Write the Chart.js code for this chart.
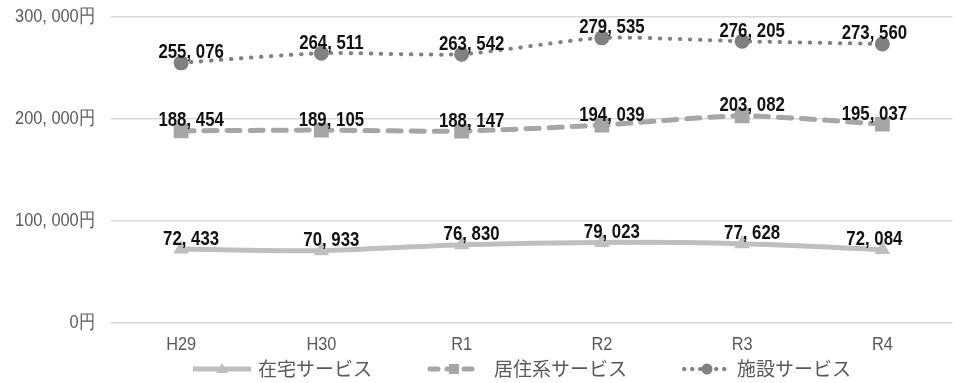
<!DOCTYPE html>
<html lang="ja">
<head>
<meta charset="utf-8">
<script src="https://cdn.jsdelivr.net/npm/chart.js@4"></script>
<style>
  html, body { margin: 0; padding: 0; background: #fff; overflow: hidden; }
  #wrap { position: absolute; left: 0; top: 0; width: 963px; height: 383px; }
</style>
</head>
<body>
<div id="wrap"><canvas id="grafico"></canvas></div>
<script>
// 年度
const nendo = ['H29', 'H30', 'R1', 'R2', 'R3', 'R4'];

// 一人当たり給付費（円）
const zaitaku = [72433, 70933, 76830, 79023, 77628, 72084];
const kyojuu = [188454, 189105, 188147, 194039, 203082, 195037];
const shisetsu = [255076, 264511, 263542, 279535, 276205, 273560];

const nomes = ['在宅サービス', '居住系サービス', '施設サービス'];

const yTicks = [0, 100000, 200000, 300000];

const SANS = "'Liberation Sans', Arial, sans-serif";
const JP_FONT = "'Noto Sans CJK JP', sans-serif";

function fmt(v) {
    return v.toLocaleString('en-US').replace(/,/g, ', ');
}

// 横に詰めた文字（細長い書体の代わり）
function textoEstreito(ctx, txt, x, y, align, sx) {
    ctx.save();
    ctx.translate(x, y);
    ctx.scale(sx, 1);
    ctx.textAlign = align;
    ctx.textBaseline = 'middle';
    ctx.fillText(txt, 0, 0);
    ctx.restore();
}

// 軸の目盛り文字
const eixos = {
    id: 'eixos',
    afterDraw(chart) {
        const ctx = chart.ctx;
        const sy = chart.scales.y;
        const sx = chart.scales.x;
        ctx.save();
        ctx.fillStyle = '#595959';
        ctx.font = '19px ' + SANS;
        sy.ticks.forEach(t => {
            textoEstreito(ctx, fmt(t.value) + '円', 95, sy.getPixelForValue(t.value), 'right', 0.86);
        });
        chart.data.labels.forEach((lb, i) => {
            textoEstreito(ctx, lb, sx.getPixelForTick(i), sy.bottom + 22, 'center', 0.86);
        });
        ctx.restore();
    }
};

// 数値ラベル（点の少し上）
const rotulos = {
    id: 'rotulos',
    afterDatasetsDraw(chart) {
        const ctx = chart.ctx;
        ctx.save();
        ctx.font = 'bold 20px ' + SANS;
        ctx.fillStyle = '#111';
        chart.data.datasets.forEach((ds, i) => {
            const meta = chart.getDatasetMeta(i);
            meta.data.forEach((pt, j) => {
                const dx = j === meta.data.length - 1 ? -8 : 10;
                textoEstreito(ctx, fmt(ds.data[j]), pt.x + dx, pt.y - 10, 'center', 0.84);
            });
        });
        ctx.restore();
    }
};

// 凡例（線＋マーカー）
const legenda = {
    id: 'legenda',
    afterDraw(chart) {
        const ctx = chart.ctx;
        const y = 369;
        const itens = [
            { x0: 193, x1: 251, tx: 258 },
            { x0: 430, x1: 478, tx: 494 },
            { x0: 684, x1: 730, tx: 737 }
        ];
        ctx.save();
        chart.data.datasets.forEach((ds, i) => {
            const it = itens[i];
            ctx.strokeStyle = ds.borderColor;
            ctx.lineWidth = ds.borderWidth;
            ctx.lineCap = ds.borderCapStyle || 'butt';
            ctx.setLineDash(i === 0 ? [] : (i === 1 ? [8, 9] : [0.5, 7.5]));
            ctx.beginPath();
            ctx.moveTo(it.x0, y);
            ctx.lineTo(it.x1, y);
            ctx.stroke();
            ctx.setLineDash([]);
            const cx = (it.x0 + it.x1) / 2;
            ctx.fillStyle = ds.pointBackgroundColor;
            ctx.beginPath();
            if (i === 0) {
                ctx.moveTo(cx, y - 6);
                ctx.lineTo(cx + 6, y + 4);
                ctx.lineTo(cx - 6, y + 4);
                ctx.closePath();
            } else if (i === 1) {
                ctx.rect(cx - 5, y - 5, 10, 10);
            } else {
                ctx.arc(cx, y, 5.5, 0, Math.PI * 2);
            }
            ctx.fill();
            ctx.font = '19px ' + JP_FONT;
            ctx.fillStyle = '#595959';
            ctx.textAlign = 'left';
            ctx.textBaseline = 'middle';
            ctx.fillText(nomes[i], it.tx, y);
        });
        ctx.restore();
    }
};

const ctx = document.getElementById('grafico').getContext('2d');

new Chart(ctx, {
    type: 'line',
    data: {
        labels: nendo,
        datasets: [
            {
                label: nomes[0],
                data: zaitaku,
                borderColor: '#bfbfbf',
                borderWidth: 5,
                pointStyle: 'triangle',
                pointRadius: 9,
                pointBackgroundColor: '#bfbfbf',
                pointBorderWidth: 0,
                tension: 0.22
            },
            {
                label: nomes[1],
                data: kyojuu,
                borderColor: '#a6a6a6',
                borderWidth: 5,
                borderDash: [13, 10],
                borderCapStyle: 'round',
                pointStyle: 'rect',
                pointRadius: 10.5,
                pointBackgroundColor: '#a6a6a6',
                pointBorderWidth: 0,
                tension: 0.22
            },
            {
                label: nomes[2],
                data: shisetsu,
                borderColor: '#808080',
                borderWidth: 4,
                borderDash: [0.5, 9.5],
                borderCapStyle: 'round',
                pointStyle: 'circle',
                pointRadius: 7.5,
                pointBackgroundColor: '#808080',
                pointBorderWidth: 0,
                tension: 0.22
            }
        ]
    },
    options: {
        responsive: true,
        maintainAspectRatio: false,
        animation: false,
        layout: { padding: { top: 17, bottom: 30, left: 0, right: 0 } },
        plugins: {
            legend: { display: false },
            tooltip: { enabled: false }
        },
        scales: {
            x: {
                offset: true,
                grid: { display: false },
                border: { display: false },
                ticks: { display: false },
                afterFit(scale) { scale.height = 30; }
            },
            y: {
                min: 0,
                max: 300000,
                afterBuildTicks(scale) {
                    scale.ticks = yTicks.map(v => ({ value: v }));
                },
                grid: { color: '#d9d9d9', lineWidth: 1.5, drawTicks: false },
                border: { display: false },
                ticks: { display: false },
                afterFit(scale) { scale.width = 111; }
            }
        }
    },
    plugins: [rotulos, legenda, eixos]
});
</script>
</body>
</html>
